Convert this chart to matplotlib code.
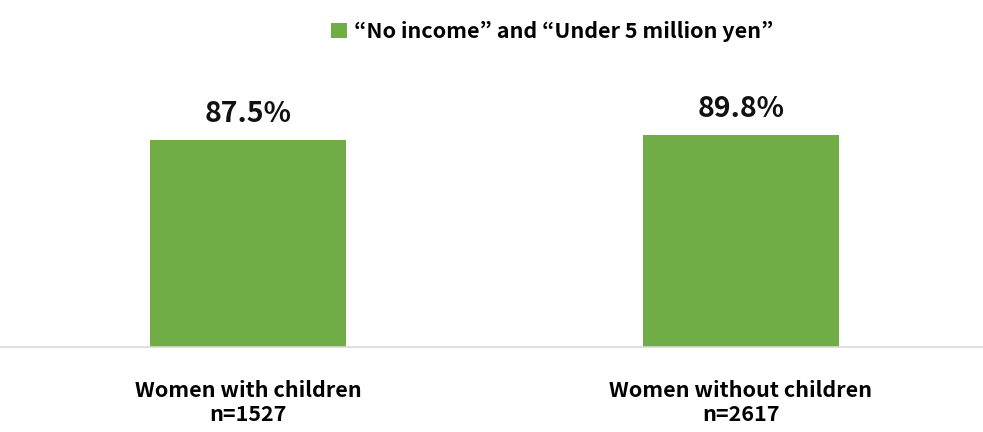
import matplotlib
matplotlib.use("Agg")
import matplotlib.pyplot as plt

# share of women reporting "no income" or "under 5 million yen"
categories = ["Women with children\nn=1527", "Women without children\nn=2617"]
values = [87.5, 89.8]
legend_label = "\u201cNo income\u201d and \u201cUnder 5 million yen\u201d"

green = "#70ad47"
plt.rcParams['font.family'] = ['Noto Sans CJK KR', 'DejaVu Sans']

fig = plt.figure(figsize=(9.83, 4.32), dpi=100)
ax = fig.add_axes([0, 0.1968, 1, 0.657])

x = range(len(values))
bars = ax.bar(x, values, width=0.398, color=green, label=legend_label)
ax.set_xlim(-0.503, 1.491)
ax.set_ylim(0, 120)

for b, v in zip(bars, values):
    ax.text(b.get_x() + b.get_width() / 2, v + 5, "{:.1f}%".format(v),
            ha='center', va='bottom', fontsize=20.5, fontweight='bold', color='#111111')

for s in ['top', 'right', 'left']:
    ax.spines[s].set_visible(False)
ax.spines['bottom'].set_color('#d9d9d9')
ax.spines['bottom'].set_linewidth(1.2)
ax.set_yticks([])
ax.set_xticks(list(x))
ax.set_xticklabels(categories, fontsize=15.5, fontweight='bold', linespacing=1.15)
ax.tick_params(axis='x', length=0, pad=24)

ax.legend(loc='center', bbox_to_anchor=(0.562, 1.113), frameon=False,
          prop={'size': 15.5, 'weight': 'bold'}, handlelength=0.7, handleheight=0.7,
          handletextpad=0.35)

fig.savefig("out.png", dpi=100)
